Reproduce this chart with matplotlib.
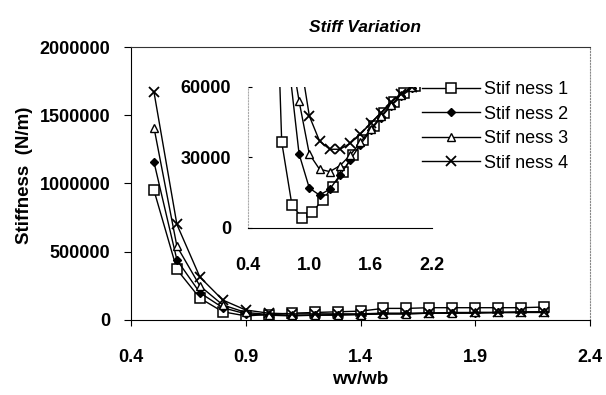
import matplotlib
matplotlib.use("Agg")
import matplotlib.pyplot as plt

plt.rcParams['font.family'] = ['Liberation Sans', 'DejaVu Sans']

# main chart data
wv_wb = [0.5, 0.6, 0.7, 0.8, 0.9, 1.0, 1.1, 1.2, 1.3, 1.4, 1.5, 1.6, 1.7, 1.8, 1.9, 2.0, 2.1, 2.2]
stif1 = [950000, 370000, 160000, 60000, 30000, 40000, 50000, 55000, 60000, 65000,
         85000, 85000, 90000, 90000, 90000, 90000, 90000, 95000]
stif2 = [1157000, 440000, 200000, 90000, 45000, 35000, 30000, 35000, 35000, 40000,
         45000, 45000, 50000, 50000, 50000, 55000, 55000, 55000]
stif3 = [1410000, 540000, 250000, 110000, 55000, 40000, 35000, 35000, 40000, 40000,
         45000, 45000, 50000, 50000, 55000, 55000, 55000, 60000]
stif4 = [1670000, 700000, 315000, 146000, 73000, 50000, 45000, 45000, 45000, 45000,
         50000, 50000, 50000, 55000, 55000, 55000, 60000, 60000]

# inset (zoomed) data, each series has its own wv/wb values
x_in1 = [0.63, 0.73, 0.83, 0.93, 1.03, 1.13, 1.23, 1.33, 1.43, 1.53, 1.63, 1.73, 1.83, 1.93, 2.03, 2.13]
y_in1 = [170000, 36600, 9800, 4300, 6800, 12000, 17500, 24000, 31000, 37500,
         43500, 49000, 53500, 57500, 60500, 63000]
x_in2 = [0.8, 0.9, 1.0, 1.1, 1.2, 1.3, 1.4, 1.5, 1.6, 1.7, 1.8, 1.9, 2.0, 2.1]
y_in2 = [70000, 31500, 17000, 14000, 16500, 22500, 29000, 35500, 41500, 47000,
         52000, 56000, 59500, 62500]
x_in3 = [0.8, 0.9, 1.0, 1.1, 1.2, 1.3, 1.4, 1.5, 1.6, 1.7, 1.8, 1.9, 2.0, 2.1]
y_in3 = [80000, 54000, 31500, 25000, 24000, 26500, 31000, 36500, 42000, 47500,
         52500, 56500, 60000, 62500]
x_in4 = [0.9, 1.0, 1.1, 1.2, 1.3, 1.4, 1.5, 1.6, 1.7, 1.8, 1.9, 2.0, 2.1]
y_in4 = [75000, 47700, 37000, 33500, 33500, 36000, 40000, 44500, 49000, 53500,
         57000, 60000, 62500]

labels = ['Stif ness 1', 'Stif ness 2', 'Stif ness 3', 'Stif ness 4']
xticks_main = [0.4, 0.9, 1.4, 1.9, 2.4]
yticks_main = [0, 500000, 1000000, 1500000, 2000000]
xticks_in = [0.4, 1.0, 1.6, 2.2]
yticks_in = [0, 30000, 60000]

styles = [dict(marker='s', ms=7.5, mfc='white', mew=1.1),
          dict(marker='D', ms=4.5, mfc='black', mew=1.0),
          dict(marker='^', ms=5.5, mfc='white', mew=1.0),
          dict(marker='x', ms=6.5, mew=1.3)]

fig = plt.figure(figsize=(6.06, 3.95), dpi=100)
ax = fig.add_axes([0.2162, 0.1899, 0.7574, 0.6911])

handles = []
for ys, st, lab in zip([stif1, stif2, stif3, stif4], styles, labels):
    h, = ax.plot(wv_wb, ys, color='black', lw=1.0, mec='black', label=lab, **st)
    handles.append(h)

ax.set_xlim(0.4, 2.4)
ax.set_ylim(0, 2000000)
ax.set_xticks(xticks_main)
ax.set_xticklabels(['0.4', '0.9', '1.4', '1.9', '2.4'])
ax.set_yticks(yticks_main)
ax.set_yticklabels([str(v) for v in yticks_main])
ax.tick_params(axis='x', length=4, pad=17, labelsize=13)
ax.tick_params(axis='y', length=5, pad=10, labelsize=13)
for t in ax.get_xticklabels() + ax.get_yticklabels():
    t.set_fontweight('bold')
ax.spines['right'].set_linestyle(':')
ax.spines['right'].set_color('#888888')
ax.spines['top'].set_color('#333333')

fig.text(0.04, 0.555, 'Stiffness  (N/m)', rotation=90, ha='center', va='center',
         fontsize=13.5, fontweight='bold')
fig.text(0.595, 0.038, 'wv/wb', ha='center', va='center', fontsize=13.5, fontweight='bold')
fig.text(0.602, 0.93, 'Stiff Variation', ha='center', va='center', fontsize=12.5,
         fontweight='bold', style='italic')

# inset
axi = fig.add_axes([0.4092, 0.4228, 0.3036, 0.357])
axi.patch.set_alpha(0)
for xs, ys, st in zip([x_in1, x_in2, x_in3, x_in4], [y_in1, y_in2, y_in3, y_in4], styles):
    axi.plot(xs, ys, color='black', lw=1.0, mec='black', **st)
axi.set_xlim(0.4, 2.2)
axi.set_ylim(0, 60000)
axi.set_xticks(xticks_in)
axi.set_xticklabels(['0.4', '1.0', '1.6', '2.2'])
axi.set_yticks(yticks_in)
axi.set_yticklabels([str(v) for v in yticks_in])
axi.tick_params(axis='x', length=0, pad=21, labelsize=13)
axi.tick_params(axis='y', length=3, direction='in', pad=12, labelsize=13)
for t in axi.get_xticklabels() + axi.get_yticklabels():
    t.set_fontweight('bold')
axi.spines['top'].set_visible(False)
axi.spines['right'].set_visible(False)
axi.spines['left'].set_linestyle(':')
axi.spines['left'].set_color('#aaaaaa')

fig.legend(handles=handles, labels=labels, loc='upper left', bbox_to_anchor=(0.697, 0.795),
           frameon=False, fontsize=13, handlelength=3.2, handletextpad=0.2,
           labelspacing=0.42, borderpad=0, borderaxespad=0, numpoints=1)

fig.savefig('out.png', dpi=100)
